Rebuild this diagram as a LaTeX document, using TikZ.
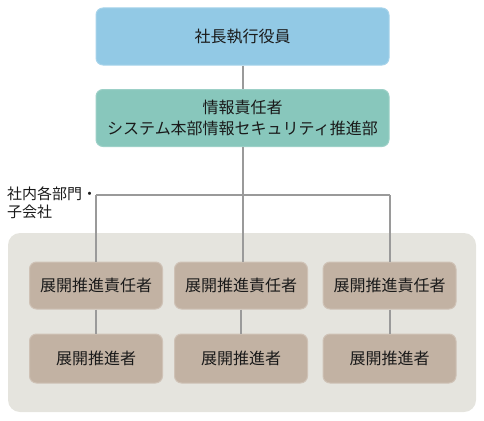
\documentclass[tikz,border=0pt]{standalone}
\usepackage{fontspec}
\setmainfont{Noto Sans CJK JP}
\definecolor{topblue}{HTML}{92C9E5}
\definecolor{topblueedge}{HTML}{A6D3EA}
\definecolor{infoteal}{HTML}{88C7BC}
\definecolor{infotealedge}{HTML}{9CD0C7}
\definecolor{unittan}{HTML}{C2B2A3}
\definecolor{unittanedge}{HTML}{CFC2B6}
\definecolor{panelgrey}{HTML}{E5E4DE}
\definecolor{linkgrey}{HTML}{9A9A9A}
\definecolor{inktext}{HTML}{1A1A1A}

\begin{document}
\begin{tikzpicture}%
  [x=1pt, y=-1pt,
   font=\fontsize{16}{21}\selectfont,
   every node/.style={text=inktext, inner sep=0pt},
   headbox/.style={rounded corners=7pt, line width=1pt, minimum width=293pt, minimum height=57pt, align=center},
   unitbox/.style={rounded corners=7pt, line width=1pt, fill=unittan, draw=unittanedge, minimum width=133pt},
   link/.style={draw=linkgrey, line width=2pt},
  ]
\useasboundingbox (0,0) rectangle (484,420);

% panel behind the departments
\fill[panelgrey, rounded corners=12pt] (8,233) rectangle (476,412);

\node[headbox, fill=topblue, draw=topblueedge] (ceo) at (242.5,36.5) {社長執行役員};
\node[headbox, fill=infoteal, draw=infotealedge] (info) at (242.5,118) {情報責任者\\システム本部情報セキュリティ推進部};

\node[anchor=north west, align=left, font=\fontsize{15}{18}\selectfont] (dept) at (7,187) {社内各部門・\\子会社};

\node[unitbox, minimum height=47pt] (lead1) at (96,285.5)  {展開推進責任者};
\node[unitbox, minimum height=47pt] (lead2) at (241,285.5) {展開推進責任者};
\node[unitbox, minimum height=47pt] (lead3) at (389.5,285.5) {展開推進責任者};
\node[unitbox, minimum height=49pt] (prom1) at (96,358.5)  {展開推進者};
\node[unitbox, minimum height=49pt] (prom2) at (241,358.5) {展開推進者};
\node[unitbox, minimum height=49pt] (prom3) at (389.5,358.5) {展開推進者};

\coordinate (busL) at (96,195);
\coordinate (busR) at (389.5,195);

\path[link]
   (ceo) -- (info)
   (info.south) -- (lead2.north -| info.south)
   (busL) -- (busR)
   (busL) -- (lead1.north)
   (busR) -- (lead3.north)
   (lead1) -- (prom1)
   (lead2) -- (prom2)
   (lead3) -- (prom3);
\end{tikzpicture}
\end{document}
